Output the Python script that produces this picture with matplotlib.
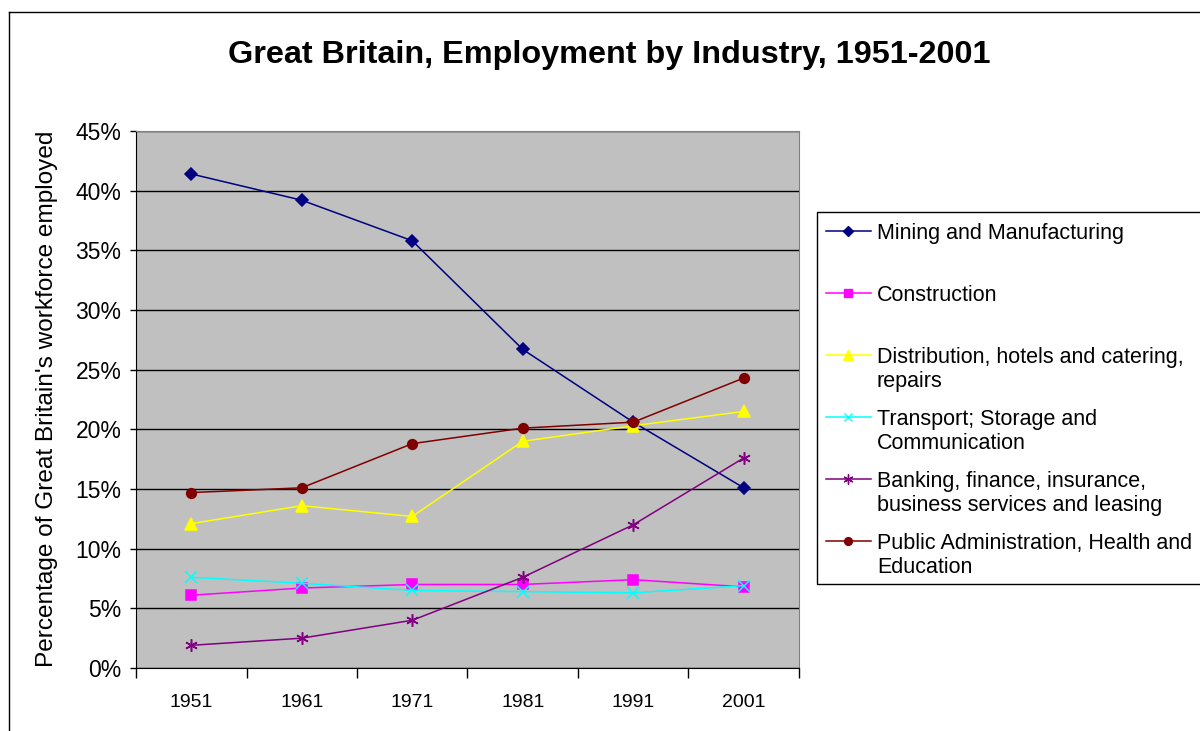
import matplotlib.pyplot as plt
from matplotlib.lines import Line2D
from matplotlib.patches import Rectangle
from matplotlib.ticker import FixedLocator, NullFormatter

plt.rcParams['font.family'] = ['Liberation Sans', 'DejaVu Sans']

# data (percent of workforce)
years = ['1951', '1961', '1971', '1981', '1991', '2001']
mining = [41.4, 39.2, 35.8, 26.7, 20.6, 15.1]
construction = [6.1, 6.7, 7.0, 7.0, 7.4, 6.8]
distribution = [12.1, 13.6, 12.7, 19.0, 20.3, 21.5]
transport = [7.6, 7.1, 6.5, 6.4, 6.3, 6.9]
banking = [1.9, 2.5, 4.0, 7.6, 12.0, 17.6]
public_admin = [14.7, 15.1, 18.8, 20.1, 20.6, 24.3]

labels = ['Mining and Manufacturing', 'Construction',
          'Distribution, hotels and catering,\nrepairs',
          'Transport; Storage and\nCommunication',
          'Banking, finance, insurance,\nbusiness services and leasing',
          'Public Administration, Health and\nEducation']
colors = ['#000080', '#FF00FF', '#FFFF00', '#00FFFF', '#800080', '#800000']
markers = ['D', 's', '^', 'x', (6, 2, 0), 'o']
msizes = [6.5, 7, 9, 8, 9, 7]

series = [mining, construction, distribution, transport, banking, public_admin]

fig = plt.figure(figsize=(12, 7.31), dpi=100)
ax = fig.add_axes([136 / 1200, 1 - 668 / 731, 663 / 1200, 537 / 731])
ax.set_facecolor('#C0C0C0')

x = list(range(len(years)))
for vals, col, mk, ms in zip(series, colors, markers, msizes):
    ax.plot(x, vals, color=col, marker=mk, markersize=ms, linewidth=1.1,
            markeredgecolor=col, markerfacecolor=col, markeredgewidth=1.1,
            zorder=3)

ax.set_xlim(-0.5, len(years) - 0.5)
ax.set_ylim(0, 45)
ax.set_yticks(range(0, 46, 5))
ax.set_yticklabels([f'{v}%' for v in range(0, 46, 5)], fontsize=16.5)
ax.yaxis.grid(True, color='black', linewidth=1)
ax.set_axisbelow(True)

# category boundaries get the ticks, labels sit in the middle
ax.xaxis.set_major_locator(FixedLocator([i - 0.5 for i in range(len(years) + 1)]))
ax.xaxis.set_major_formatter(NullFormatter())
ax.set_xticks(x, minor=True)
ax.set_xticklabels(years, minor=True, fontsize=14)
ax.tick_params(axis='x', which='minor', length=0, pad=19)
ax.tick_params(axis='x', which='major', length=7, width=1)
ax.tick_params(axis='y', length=4.5, width=1, pad=6)

for side in ['top', 'right']:
    ax.spines[side].set_color('#808080')
for side in ['left', 'bottom']:
    ax.spines[side].set_color('black')

fig.text(0.508, 1 - 55 / 731, 'Great Britain, Employment by Industry, 1951-2001',
         ha='center', va='center', fontsize=23.3, fontweight='bold')
fig.text(47 / 1200, 1 - 399 / 731, "Percentage of Great Britain's workforce employed",
         ha='center', va='center', rotation=90, fontsize=17.6)

# outer chart border (runs off the right and bottom)
fig.add_artist(Line2D([9 / 1200, 9 / 1200], [-0.1, 1 - 12 / 731], color='black', linewidth=1))
fig.add_artist(Line2D([9 / 1200, 1.1], [1 - 12 / 731, 1 - 12 / 731], color='black', linewidth=1))

# legend box drawn by hand so markers line up with first text line
fig.add_artist(Rectangle((817 / 1200, 1 - 584 / 731), 400 / 1200, 372 / 731,
                         transform=fig.transFigure, facecolor='white',
                         edgecolor='black', linewidth=1))
for i, (lab, col, mk, ms) in enumerate(zip(labels, colors, markers, msizes)):
    yy = 1 - (231 + 62 * i) / 731
    fig.add_artist(Line2D([826 / 1200, 871 / 1200], [yy, yy], color=col, linewidth=1.1))
    fig.add_artist(Line2D([848 / 1200], [yy], color=col, marker=mk, markersize=ms * 0.8,
                          markerfacecolor=col, markeredgecolor=col, linewidth=0))
    fig.text(877 / 1200, yy + 8 / 731, lab, ha='left', va='top', fontsize=15.5,
             linespacing=1.2)

fig.savefig('out.png', dpi=100)
